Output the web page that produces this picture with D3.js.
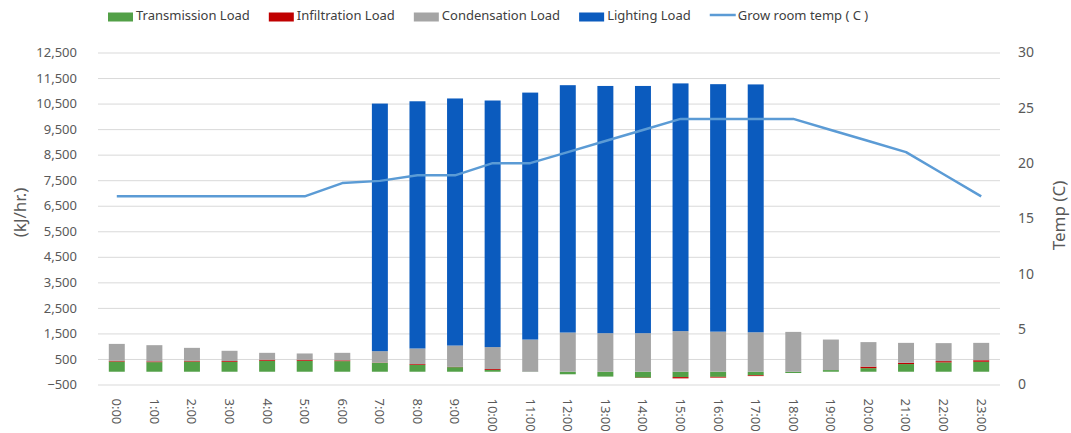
<!DOCTYPE html>
<html>
<head>
<meta charset="utf-8">
<script src="https://d3js.org/d3.v7.min.js"></script>
<style>
  body { margin: 0; background: #fff; }
  text { font-family: "Noto Sans", sans-serif; }
</style>
</head>
<body>
<div id="chart"></div>
<script>
// hours on the x axis
const hours = ["0:00","1:00","2:00","3:00","4:00","5:00","6:00","7:00","8:00","9:00","10:00","11:00",
               "12:00","13:00","14:00","15:00","16:00","17:00","18:00","19:00","20:00","21:00","22:00","23:00"];

// loads in kJ/hr.
const transmission = [400, 375, 400, 390, 430, 430, 415, 350, 270, 180, 70, -10,
                      -100, -190, -235, -210, -200, -140, -50, 65, 140, 300, 365, 390];
const infiltration = [30, 30, 30, 30, 40, 40, 30, 10, 30, 10, 35, 0,
                      0, 0, -10, -50, -30, -30, 0, 0, 60, 50, 50, 60];
const condensation = [660, 635, 505, 400, 270, 245, 295, 445, 610, 835, 860, 1260,
                      1535, 1510, 1510, 1590, 1570, 1545, 1560, 1195, 960, 780, 705, 680];
const lighting     = [0, 0, 0, 0, 0, 0, 0, 9695, 9680, 9675, 9655, 9670,
                      9685, 9680, 9680, 9700, 9690, 9705, 0, 0, 0, 0, 0, 0];

// grow room temperature in C
const temps = [17, 17, 17, 17, 17, 17, 18.2, 18.4, 18.9, 18.9, 20, 20,
               21, 22, 23, 24, 24, 24, 24, 23, 22, 21, 19, 17];

const loadTicks = [-500, 500, 1500, 2500, 3500, 4500, 5500, 6500, 7500, 8500, 9500, 10500, 11500, 12500];
const tempTicks = [0, 5, 10, 15, 20, 25, 30];

const seriesNames = ["Transmission Load", "Infiltration Load", "Condensation Load", "Lighting Load"];
const seriesColors = ["#52A047", "#C00000", "#A5A5A5", "#0B5BBE"];
const lineName = "Grow room temp ( C )";
const lineColor = "#5B9BD5";

const ctx = {
    w: 1071,
    h: 433,
    left: 98,
    right: 1000,
    top: 52.5,
    bottom: 384.5
};

function createViz() {
    const svg = d3.select("#chart").append("svg")
        .attr("width", ctx.w)
        .attr("height", ctx.h);

    // one row per hour for the stack
    const rows = hours.map((h, i) => ({
        hour: h,
        "Transmission Load": transmission[i],
        "Infiltration Load": infiltration[i],
        "Condensation Load": condensation[i],
        "Lighting Load": lighting[i]
    }));

    const x = d3.scaleBand()
        .domain(hours)
        .range([ctx.left, ctx.right])
        .paddingInner(0.575)
        .paddingOuter(0.2875);

    const y = d3.scaleLinear()
        .domain([-500, 12500])
        .range([ctx.bottom, ctx.top]);

    const yT = d3.scaleLinear()
        .domain([0, 30])
        .range([ctx.bottom, ctx.top]);

    // left axis with grid lines
    const yAxis = svg.append("g")
        .attr("transform", `translate(${ctx.left},0)`)
        .call(d3.axisLeft(y).tickValues(loadTicks).tickFormat(d3.format(",")).tickSize(0).tickPadding(21));
    yAxis.select(".domain").remove();
    yAxis.selectAll(".tick text")
        .attr("fill", "#595959")
        .style("font-size", "13px");
    yAxis.selectAll(".tick")
        .append("line")
        .attr("x1", 0)
        .attr("x2", ctx.right - ctx.left)
        .attr("stroke", "#d9d9d9")
        .attr("stroke-width", 1);

    // right axis
    const yAxisR = svg.append("g")
        .attr("transform", `translate(${ctx.right},0)`)
        .call(d3.axisRight(yT).tickValues(tempTicks).tickSize(0).tickPadding(18));
    yAxisR.select(".domain").remove();
    yAxisR.selectAll(".tick text")
        .attr("fill", "#595959")
        .style("font-size", "14px");

    // x axis, labels rotated
    const xAxis = svg.append("g")
        .attr("transform", `translate(0,${ctx.bottom})`)
        .call(d3.axisBottom(x).tickSize(0));
    xAxis.select(".domain").remove();
    xAxis.selectAll(".tick text")
        .attr("fill", "#595959")
        .style("font-size", "13px")
        .style("text-anchor", "start")
        .attr("dy", "0.35em")
        .attr("x", 14)
        .attr("y", 0)
        .attr("transform", "rotate(90)");

    // stacked bars
    const stack = d3.stack()
        .keys(seriesNames)
        .offset(d3.stackOffsetDiverging);
    const series = stack(rows);

    svg.append("g")
        .selectAll("g")
        .data(series)
        .join("g")
        .attr("fill", (d, i) => seriesColors[i])
        .selectAll("rect")
        .data(d => d)
        .join("rect")
        .attr("x", d => x(d.data.hour))
        .attr("width", x.bandwidth())
        .attr("y", d => y(Math.max(d[0], d[1])))
        .attr("height", d => Math.abs(y(d[0]) - y(d[1])));

    // temperature line
    const line = d3.line()
        .x((d, i) => x(hours[i]) + x.bandwidth() / 2)
        .y(d => yT(d));

    svg.append("path")
        .datum(temps)
        .attr("fill", "none")
        .attr("stroke", lineColor)
        .attr("stroke-width", 2.5)
        .attr("stroke-linejoin", "round")
        .attr("d", line);

    // axis titles
    const midY = (ctx.top + ctx.bottom) / 2;
    svg.append("text")
        .attr("transform", `translate(26,${midY - 6}) rotate(-90)`)
        .style("text-anchor", "middle")
        .style("font-size", "17px")
        .attr("fill", "#595959")
        .text("(kJ/hr.)");

    svg.append("text")
        .attr("transform", `translate(1065,${midY - 3}) rotate(-90)`)
        .style("text-anchor", "middle")
        .style("font-size", "17px")
        .attr("fill", "#595959")
        .text("Temp (C)");

    drawLegend(svg);
}

function drawLegend(svg) {
    const legend = svg.append("g");
    let cx = 108;
    const items = seriesNames.map((n, i) => ({ name: n, color: seriesColors[i], kind: "box" }))
        .concat([{ name: lineName, color: lineColor, kind: "line" }]);

    items.forEach(item => {
        if (item.kind === "box") {
            legend.append("rect")
                .attr("x", cx)
                .attr("y", 12.5)
                .attr("width", 25)
                .attr("height", 9)
                .attr("fill", item.color);
        } else {
            legend.append("line")
                .attr("x1", cx)
                .attr("x2", cx + 26)
                .attr("y1", 15)
                .attr("y2", 15)
                .attr("stroke", item.color)
                .attr("stroke-width", 2.5);
        }
        const t = legend.append("text")
            .attr("x", cx + 28)
            .attr("y", 20)
            .style("font-size", "13px")
            .attr("fill", "#404040")
            .text(item.name);
        cx += 28 + t.node().getComputedTextLength() + 19;
    });
}

document.addEventListener("DOMContentLoaded", function () {
    createViz();
});
</script>
</body>
</html>
